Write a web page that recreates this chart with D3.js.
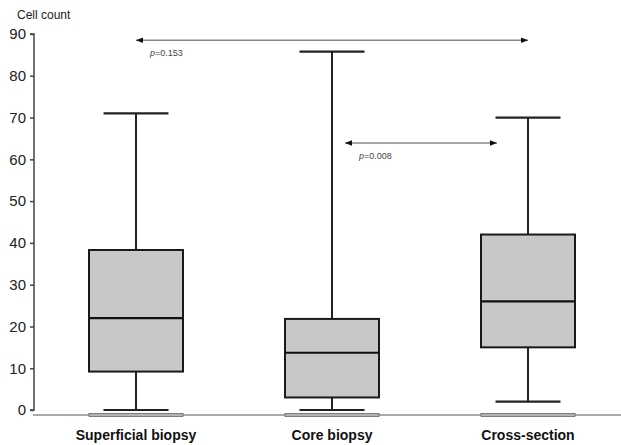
<!DOCTYPE html>
<html>
<head>
<meta charset="utf-8">
<script src="https://cdn.jsdelivr.net/npm/d3@7/dist/d3.min.js"></script>
<style>
  html, body { margin: 0; padding: 0; background: #fff; }
  svg { display: block; font-family: "Liberation Sans", Arial, sans-serif; }
</style>
</head>
<body>
<svg id="chart" width="621" height="445"></svg>
<script>
// Cell counts per sampling method (box-and-whisker summaries)
const categories = ["Superficial biopsy", "Core biopsy", "Cross-section"];
const whiskerLow  = [0, 0, 2];
const quartile1   = [9.2, 3, 15];
const medians     = [22, 13.7, 26];
const quartile3   = [38.3, 21.8, 42];
const whiskerHigh = [71, 85.8, 70];

const yTicks = [0, 10, 20, 30, 40, 50, 60, 70, 80, 90];
const yTitle = "Cell count";

// Pairwise comparisons drawn as double-headed arrows
const compareFrom   = [0, 1];
const compareTo     = [2, 2];
const compareLevel  = [88.5, 63.9];
const compareLabels = ["0.153", "0.008"];

const svg = d3.select("#chart");

const x = d3.scalePoint().domain(categories).range([136, 528]);
const y = d3.scaleLinear().domain([0, 90]).range([410, 34]);

const boxW = 94, capW = 65;

// y axis
const yAxis = svg.append("g")
  .attr("transform", "translate(34,0)")
  .call(d3.axisLeft(y).tickValues(yTicks).tickSize(4).tickPadding(4).tickFormat(d3.format("d")));
yAxis.select(".domain").attr("stroke", "#444").attr("stroke-width", 1.5).attr("d", `M-4,${y(90)}H0V${y(0)}H-4`);
yAxis.selectAll(".tick line").attr("stroke", "#444").attr("stroke-width", 1.5);
yAxis.selectAll(".tick text").attr("fill", "#222").style("font-size", "15px");

svg.append("text")
  .attr("x", 17).attr("y", 19)
  .attr("fill", "#222")
  .style("font-size", "12px")
  .text(yTitle);

// baseline below the zero level
const baseY = y(-1.2);
svg.append("line")
  .attr("x1", 33).attr("x2", 621)
  .attr("y1", baseY).attr("y2", baseY)
  .attr("stroke", "#555").attr("stroke-width", 1);

const data = categories.map((c, i) => ({
  c, lo: whiskerLow[i], q1: quartile1[i], med: medians[i], q3: quartile3[i], hi: whiskerHigh[i]
}));

const g = svg.selectAll("g.box").data(data).join("g").attr("class", "box");

// floor strips on the baseline
g.append("rect")
  .attr("x", d => x(d.c) - boxW / 2)
  .attr("y", baseY - 1.5)
  .attr("width", boxW).attr("height", 3)
  .attr("fill", "#b4b4b4").attr("stroke", "#666").attr("stroke-width", 0.8);

// whiskers
g.append("line")
  .attr("x1", d => x(d.c)).attr("x2", d => x(d.c))
  .attr("y1", d => y(d.hi)).attr("y2", d => y(d.q3))
  .attr("stroke", "#222").attr("stroke-width", 2);
g.append("line")
  .attr("x1", d => x(d.c)).attr("x2", d => x(d.c))
  .attr("y1", d => y(d.q1)).attr("y2", d => y(d.lo))
  .attr("stroke", "#222").attr("stroke-width", 2);
g.append("line")
  .attr("x1", d => x(d.c) - capW / 2).attr("x2", d => x(d.c) + capW / 2)
  .attr("y1", d => y(d.hi)).attr("y2", d => y(d.hi))
  .attr("stroke", "#222").attr("stroke-width", 2.2);
g.append("line")
  .attr("x1", d => x(d.c) - capW / 2).attr("x2", d => x(d.c) + capW / 2)
  .attr("y1", d => y(d.lo)).attr("y2", d => y(d.lo))
  .attr("stroke", "#222").attr("stroke-width", 2.2);

// boxes
g.append("rect")
  .attr("x", d => x(d.c) - boxW / 2)
  .attr("y", d => y(d.q3))
  .attr("width", boxW)
  .attr("height", d => y(d.q1) - y(d.q3))
  .attr("fill", "#c8c8c8").attr("stroke", "#1a1a1a").attr("stroke-width", 2);

// medians
g.append("line")
  .attr("x1", d => x(d.c) - boxW / 2).attr("x2", d => x(d.c) + boxW / 2)
  .attr("y1", d => y(d.med)).attr("y2", d => y(d.med))
  .attr("stroke", "#111").attr("stroke-width", 2.2);

// category labels
svg.selectAll("text.cat").data(categories).join("text")
  .attr("class", "cat")
  .attr("x", d => x(d)).attr("y", 440)
  .attr("text-anchor", "middle")
  .attr("fill", "#111")
  .style("font-size", "14px").style("font-weight", "bold")
  .text(d => d);

// comparison arrows
const defs = svg.append("defs");
defs.append("marker").attr("id", "headEnd")
  .attr("viewBox", "0 0 10 10").attr("refX", 10).attr("refY", 5)
  .attr("markerWidth", 7).attr("markerHeight", 7).attr("markerUnits", "userSpaceOnUse")
  .attr("orient", "auto")
  .append("path").attr("d", "M0,1L10,5L0,9Z").attr("fill", "#111");
defs.append("marker").attr("id", "headStart")
  .attr("viewBox", "0 0 10 10").attr("refX", 0).attr("refY", 5)
  .attr("markerWidth", 7).attr("markerHeight", 7).attr("markerUnits", "userSpaceOnUse")
  .attr("orient", "auto")
  .append("path").attr("d", "M10,1L0,5L10,9Z").attr("fill", "#111");

const arrowInset = [[0, 0], [13, -31]];
const comps = compareFrom.map((f, i) => ({
  x1: x(categories[f]) + arrowInset[i][0],
  x2: x(categories[compareTo[i]]) + arrowInset[i][1],
  yv: compareLevel[i],
  label: compareLabels[i]
}));

svg.selectAll("line.cmp").data(comps).join("line")
  .attr("class", "cmp")
  .attr("x1", d => d.x1).attr("x2", d => d.x2)
  .attr("y1", d => y(d.yv)).attr("y2", d => y(d.yv))
  .attr("stroke", "#8a8a8a").attr("stroke-width", 1.5)
  .attr("marker-start", "url(#headStart)")
  .attr("marker-end", "url(#headEnd)");

const pt = svg.selectAll("text.pval").data(comps).join("text")
  .attr("class", "pval")
  .attr("x", d => d.x1 + 14).attr("y", d => y(d.yv) + 16)
  .attr("fill", "#444")
  .style("font-size", "9px");
pt.append("tspan").style("font-style", "italic").text("p");
pt.append("tspan").text(d => "=" + d.label);
</script>
</body>
</html>
